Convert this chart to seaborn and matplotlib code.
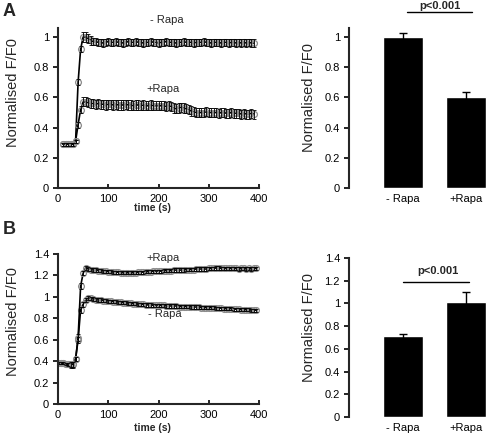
import matplotlib
matplotlib.use('Agg')
import matplotlib.pyplot as plt
import seaborn as sns
import pandas as pd
from matplotlib.ticker import FuncFormatter, MultipleLocator

# ---------------- data ----------------
time_a = [10, 15, 20, 25, 30, 35, 40, 45, 50, 55,
          60, 65, 70, 75, 80, 85, 90, 95, 100, 105,
          110, 115, 120, 125, 130, 135, 140, 145, 150, 155,
          160, 165, 170, 175, 180, 185, 190, 195, 200, 205,
          210, 215, 220, 225, 230, 235, 240, 245, 250, 255,
          260, 265, 270, 275, 280, 285, 290, 295, 300, 305,
          310, 315, 320, 325, 330, 335, 340, 345, 350, 355,
          360, 365, 370, 375, 380, 385, 390]

a_minus = [0.29, 0.29, 0.29, 0.29, 0.29, 0.31, 0.70, 0.92, 1.00, 1.00,
           0.99, 0.98, 0.97, 0.97, 0.965, 0.965, 0.96, 0.965, 0.97, 0.965,
           0.965, 0.97, 0.965, 0.965, 0.96, 0.965, 0.97, 0.965, 0.965, 0.97,
           0.965, 0.965, 0.96, 0.965, 0.965, 0.97, 0.965, 0.965, 0.96, 0.965,
           0.965, 0.97, 0.965, 0.965, 0.965, 0.96, 0.965, 0.965, 0.97, 0.965,
           0.965, 0.965, 0.96, 0.965, 0.965, 0.965, 0.97, 0.965, 0.965, 0.96,
           0.965, 0.965, 0.965, 0.96, 0.965, 0.965, 0.96, 0.965, 0.965, 0.96,
           0.965, 0.96, 0.965, 0.96, 0.965, 0.96, 0.96]
a_minus_err = [0.01, 0.01, 0.01, 0.01, 0.01, 0.01, 0.02, 0.02, 0.035, 0.035,
               0.03, 0.03, 0.025, 0.025, 0.025, 0.025, 0.025, 0.025, 0.025, 0.025,
               0.025, 0.025, 0.025, 0.025, 0.025, 0.025, 0.025, 0.025, 0.025, 0.025,
               0.025, 0.025, 0.025, 0.025, 0.025, 0.025, 0.025, 0.025, 0.025, 0.025,
               0.025, 0.025, 0.025, 0.025, 0.025, 0.025, 0.025, 0.025, 0.025, 0.025,
               0.025, 0.025, 0.025, 0.025, 0.025, 0.025, 0.025, 0.025, 0.025, 0.025,
               0.025, 0.025, 0.025, 0.025, 0.025, 0.025, 0.025, 0.025, 0.025, 0.025,
               0.025, 0.025, 0.025, 0.025, 0.025, 0.025, 0.025]

a_plus = [0.29, 0.29, 0.29, 0.29, 0.29, 0.31, 0.42, 0.52, 0.57, 0.57,
          0.565, 0.56, 0.56, 0.555, 0.56, 0.555, 0.555, 0.55, 0.555, 0.555,
          0.55, 0.555, 0.55, 0.55, 0.55, 0.555, 0.55, 0.55, 0.545, 0.55,
          0.55, 0.545, 0.55, 0.545, 0.545, 0.55, 0.545, 0.545, 0.545, 0.545,
          0.545, 0.54, 0.545, 0.54, 0.53, 0.525, 0.53, 0.535, 0.53, 0.525,
          0.52, 0.51, 0.505, 0.50, 0.50, 0.50, 0.50, 0.505, 0.50, 0.50,
          0.50, 0.50, 0.495, 0.50, 0.50, 0.495, 0.495, 0.50, 0.495, 0.495,
          0.495, 0.49, 0.495, 0.49, 0.49, 0.495, 0.49]
a_plus_err = [0.01, 0.01, 0.01, 0.01, 0.01, 0.01, 0.02, 0.025, 0.03, 0.03,
              0.03, 0.03, 0.03, 0.03, 0.03, 0.03, 0.03, 0.03, 0.03, 0.03,
              0.03, 0.03, 0.03, 0.03, 0.03, 0.03, 0.03, 0.03, 0.03, 0.03,
              0.03, 0.03, 0.03, 0.03, 0.03, 0.03, 0.03, 0.03, 0.03, 0.03,
              0.03, 0.03, 0.03, 0.03, 0.03, 0.03, 0.03, 0.03, 0.03, 0.03,
              0.03, 0.03, 0.03, 0.03, 0.03, 0.03, 0.03, 0.03, 0.03, 0.03,
              0.03, 0.03, 0.03, 0.03, 0.03, 0.03, 0.03, 0.03, 0.03, 0.03,
              0.03, 0.03, 0.03, 0.03, 0.03, 0.03, 0.03]

time_b = [0, 5, 10, 15, 20, 25, 30, 35, 40, 45,
          50, 55, 60, 65, 70, 75, 80, 85, 90, 95,
          100, 105, 110, 115, 120, 125, 130, 135, 140, 145,
          150, 155, 160, 165, 170, 175, 180, 185, 190, 195,
          200, 205, 210, 215, 220, 225, 230, 235, 240, 245,
          250, 255, 260, 265, 270, 275, 280, 285, 290, 295,
          300, 305, 310, 315, 320, 325, 330, 335, 340, 345,
          350, 355, 360, 365, 370, 375, 380, 385, 390, 395]

b_plus = [0.38, 0.38, 0.38, 0.37, 0.37, 0.37, 0.37, 0.42, 0.62, 1.10,
          1.22, 1.27, 1.26, 1.255, 1.25, 1.25, 1.245, 1.245, 1.24, 1.24,
          1.235, 1.235, 1.23, 1.23, 1.23, 1.225, 1.225, 1.225, 1.225, 1.225,
          1.225, 1.225, 1.23, 1.23, 1.23, 1.235, 1.235, 1.235, 1.24, 1.24,
          1.24, 1.24, 1.245, 1.245, 1.245, 1.245, 1.25, 1.25, 1.25, 1.25,
          1.25, 1.255, 1.255, 1.255, 1.255, 1.26, 1.26, 1.26, 1.26, 1.26,
          1.265, 1.265, 1.265, 1.27, 1.27, 1.265, 1.265, 1.265, 1.265, 1.265,
          1.265, 1.265, 1.26, 1.265, 1.265, 1.26, 1.265, 1.26, 1.265, 1.265]
b_plus_err = [0.01, 0.01, 0.01, 0.01, 0.015, 0.02, 0.02, 0.02, 0.03, 0.03,
              0.02, 0.015, 0.015, 0.015, 0.015, 0.015, 0.015, 0.015, 0.015, 0.015,
              0.015, 0.015, 0.015, 0.015, 0.015, 0.015, 0.015, 0.015, 0.015, 0.015,
              0.015, 0.015, 0.015, 0.015, 0.015, 0.015, 0.015, 0.015, 0.015, 0.015,
              0.015, 0.015, 0.015, 0.015, 0.015, 0.015, 0.015, 0.015, 0.015, 0.015,
              0.015, 0.015, 0.015, 0.015, 0.015, 0.015, 0.015, 0.015, 0.015, 0.015,
              0.015, 0.015, 0.015, 0.015, 0.015, 0.015, 0.015, 0.015, 0.015, 0.015,
              0.015, 0.015, 0.015, 0.015, 0.015, 0.015, 0.015, 0.015, 0.015, 0.015]

b_minus = [0.38, 0.38, 0.38, 0.37, 0.37, 0.37, 0.37, 0.42, 0.60, 0.88,
           0.93, 0.97, 0.99, 0.985, 0.98, 0.975, 0.97, 0.97, 0.965, 0.965,
           0.96, 0.96, 0.955, 0.955, 0.95, 0.95, 0.945, 0.945, 0.94, 0.94,
           0.935, 0.935, 0.93, 0.93, 0.93, 0.925, 0.925, 0.925, 0.92, 0.92,
           0.92, 0.92, 0.92, 0.915, 0.915, 0.915, 0.915, 0.915, 0.91, 0.91,
           0.91, 0.91, 0.91, 0.905, 0.905, 0.905, 0.905, 0.90, 0.90, 0.90,
           0.90, 0.90, 0.90, 0.895, 0.895, 0.895, 0.89, 0.89, 0.89, 0.89,
           0.885, 0.885, 0.885, 0.88, 0.88, 0.88, 0.88, 0.875, 0.875, 0.875]
b_minus_err = [0.01, 0.01, 0.01, 0.01, 0.015, 0.03, 0.03, 0.02, 0.03, 0.03,
               0.02, 0.015, 0.015, 0.015, 0.015, 0.015, 0.015, 0.015, 0.015, 0.015,
               0.015, 0.015, 0.015, 0.015, 0.015, 0.015, 0.015, 0.015, 0.015, 0.015,
               0.015, 0.015, 0.015, 0.015, 0.015, 0.015, 0.015, 0.015, 0.015, 0.015,
               0.015, 0.015, 0.015, 0.015, 0.015, 0.015, 0.015, 0.015, 0.015, 0.015,
               0.015, 0.015, 0.015, 0.015, 0.015, 0.015, 0.015, 0.015, 0.015, 0.015,
               0.015, 0.015, 0.015, 0.015, 0.015, 0.015, 0.015, 0.015, 0.015, 0.015,
               0.015, 0.015, 0.015, 0.015, 0.015, 0.015, 0.015, 0.015, 0.015, 0.015]

bar_cats = ['- Rapa', '+Rapa']
bar_a = [1.00, 0.605]
bar_a_err = [0.03, 0.03]
bar_b = [0.71, 1.01]
bar_b_err = [0.02, 0.09]

# ---------------- style ----------------
sns.set_theme(style='ticks')
plt.rcParams['font.family'] = ['Liberation Sans', 'DejaVu Sans']
plt.rcParams['axes.linewidth'] = 1.5

W, H = 488, 442
fig = plt.figure(figsize=(W / 100, H / 100), dpi=100)


def px_axes(left, top, right, bottom):
    return fig.add_axes([left / W, 1 - bottom / H, (right - left) / W, (bottom - top) / H])


def ptext(x, y, s, **kw):
    fig.text(x / W, 1 - y / H, s, ha='center', va='center', **kw)


fmt = FuncFormatter(lambda v, p: '%g' % round(v, 2))


def style_common(ax, ymax, ystep):
    ax.set_ylim(0, ymax)
    ax.yaxis.set_major_locator(MultipleLocator(ystep))
    ax.yaxis.set_major_formatter(fmt)
    for s in ['top', 'right']:
        ax.spines[s].set_visible(False)
    ax.spines['left'].set_linewidth(1.5)
    ax.spines['bottom'].set_linewidth(1.5)
    ax.tick_params(axis='y', direction='out', length=3.5, width=1.2, labelsize=8, pad=3, colors='black')
    ax.set_facecolor('white')


def line_panel(ax, t, series):
    for vals, errs in series:
        df = pd.DataFrame({'t': t, 'v': vals})
        sns.lineplot(data=df, x='t', y='v', ax=ax, color='black', lw=1.2,
                     marker='o', markersize=4.2, markerfacecolor='none',
                     markeredgecolor='#8c8c8c', markeredgewidth=0.9, errorbar=None)
        ax.errorbar(t, vals, yerr=errs, fmt='none', ecolor='black',
                    elinewidth=0.6, capsize=1.5, capthick=0.6)
    ax.set_xlim(0, 400)
    ax.xaxis.set_major_locator(MultipleLocator(100))
    ax.tick_params(axis='x', direction='in', length=3, width=1.2, labelsize=8, pad=4, colors='black')
    ax.set_xlabel('')
    ax.set_ylabel('Normalised F/F0', fontsize=10.5)


def bar_panel(ax, vals, errs):
    df = pd.DataFrame({'cond': bar_cats, 'v': vals})
    sns.barplot(data=df, x='cond', y='v', ax=ax, color='black', saturation=1,
                width=0.635, errorbar=None)
    ax.errorbar([0, 1], vals, yerr=errs, fmt='none', ecolor='black',
                elinewidth=1.0, capsize=3, capthick=1.0)
    ax.set_xlim(-0.857, 1.349)
    ax.spines['bottom'].set_visible(False)
    ax.tick_params(axis='x', length=0, labelsize=8, pad=4, colors='black')
    ax.set_xlabel('')
    ax.set_ylabel('Normalised F/F0', fontsize=10.5)


# Panel A line
ax1 = px_axes(58, 28, 259, 188)
line_panel(ax1, time_a, [(a_minus, a_minus_err), (a_plus, a_plus_err)])
style_common(ax1, 1.06, 0.2)
ax1.yaxis.set_label_coords(-0.187, 0.597)

# Panel A bars
ax2 = px_axes(349, 28, 488, 188)
bar_panel(ax2, bar_a, bar_a_err)
style_common(ax2, 1.06, 0.2)
ax2.yaxis.set_label_coords(-0.237, 0.566)
ax2.plot([0.063, 1.095], [1.166, 1.166], color='black', lw=1.0, clip_on=False)
ax2.text(0.58, 1.205, 'p<0.001', ha='center', va='center', fontsize=8, fontweight='bold')

# Panel B line
ax3 = px_axes(58, 254, 259, 404)
line_panel(ax3, time_b, [(b_minus, b_minus_err), (b_plus, b_plus_err)])
style_common(ax3, 1.4, 0.2)
ax3.yaxis.set_label_coords(-0.187, 0.547)

# Panel B bars
ax4 = px_axes(349, 258, 488, 417)
bar_panel(ax4, bar_b, bar_b_err)
style_common(ax4, 1.4, 0.2)
ax4.yaxis.set_label_coords(-0.237, 0.566)
ax4.plot([0.0, 1.05], [1.193, 1.193], color='black', lw=1.0, clip_on=False)
ax4.text(0.55, 1.285, 'p<0.001', ha='center', va='center', fontsize=8, fontweight='bold')

# annotations
ptext(167, 20, '- Rapa', fontsize=8)
ptext(163, 89, '+Rapa', fontsize=8)
ptext(163, 258, '+Rapa', fontsize=8)
ptext(165, 314, '- Rapa', fontsize=8)
ptext(152, 208, 'time (s)', fontsize=7.5, fontweight='bold')
ptext(152, 428, 'time (s)', fontsize=7.5, fontweight='bold')
ptext(9, 12, 'A', fontsize=13, fontweight='bold')
ptext(9, 229, 'B', fontsize=13, fontweight='bold')

fig.savefig('out.png', dpi=100, facecolor='white')
